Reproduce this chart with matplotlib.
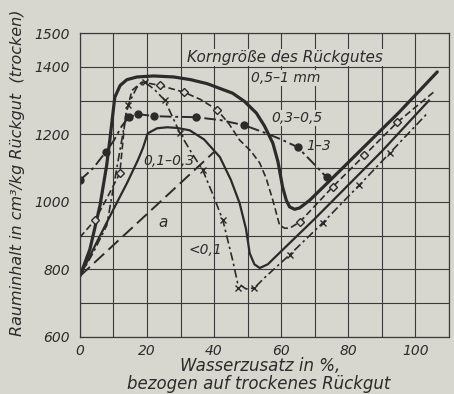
import numpy as np
import matplotlib.pyplot as plt

# Kurven: Rauminhalt (cm3/kg) ueber Wasserzusatz (%)
c1_x = [0, 3, 6, 8, 9, 10.4, 12, 14, 17, 22, 28, 33, 38, 42, 45.5, 49, 52.6, 55, 57.5, 59,
        60.4, 61.5, 62.5, 64, 65.5, 68.5, 75, 85, 95, 106.5]
c1_y = [780, 860, 990, 1110, 1190, 1310, 1345, 1362, 1370, 1373, 1370, 1362, 1350, 1335, 1322,
        1298, 1263, 1225, 1174, 1120, 1044, 1005, 985, 978, 982, 1005, 1068, 1166, 1264, 1385]

c2_x = [0, 4.5, 8, 11.9, 13.5, 15.5, 18.5, 23.8, 31, 36, 41, 44.5, 47.6, 51, 53.6, 55.5,
        57.5, 59.5, 61, 62.5, 65.5, 75.3, 84.8, 94.6, 106]
c2_y = [895, 946, 1010, 1085, 1250, 1330, 1355, 1345, 1325, 1303, 1272, 1230, 1183, 1150,
        1115, 1070, 1005, 931, 922, 922, 940, 1044, 1138, 1236, 1330]
c2_mx = [4.5, 11.9, 23.8, 31, 41, 65.5, 75.3, 84.8, 94.6]
c2_my = [946, 1085, 1345, 1325, 1272, 940, 1044, 1138, 1236]

c13_x = [0, 4, 7.7, 10, 12.5, 14.6, 17.3, 22, 28, 34.5, 42, 49, 55, 60, 64.9, 69, 73.5]
c13_y = [1064, 1100, 1148, 1180, 1225, 1251, 1260, 1254, 1252, 1251, 1242, 1227, 1205,
         1185, 1162, 1120, 1073]
c13_mx = [0, 7.7, 14.6, 17.3, 22, 34.5, 49, 64.9, 73.5]
c13_my = [1064, 1148, 1251, 1260, 1254, 1251, 1227, 1162, 1073]

c4_x = [0, 5, 10, 14, 17.3, 18.8, 20.2, 23, 26, 29, 32.7, 37, 41.7, 45, 47.6, 49.5, 50.6,
        52, 53.6, 56, 59.5, 70, 80, 90, 104]
c4_y = [780, 880, 978, 1055, 1124, 1160, 1203, 1218, 1221, 1219, 1212, 1185, 1133, 1065,
        996, 920, 848, 815, 804, 815, 849, 950, 1050, 1150, 1300]

c5_x = [0, 4, 8, 11, 14.3, 17, 19.3, 22, 25.3, 29.8, 33, 36.6, 39.5, 42.6, 45.5, 47, 49.5,
        52, 55, 62.5, 72.3, 83.3, 92.3, 103.6]
c5_y = [780, 850, 930, 1100, 1286, 1340, 1354, 1335, 1301, 1204, 1150, 1094, 1025, 946, 828,
        760, 742, 745, 775, 843, 937, 1050, 1144, 1263]
c5_mx = [14.3, 19.3, 25.3, 29.8, 36.6, 42.6, 47, 52, 62.5, 72.3, 83.3, 92.3]
c5_my = [1286, 1354, 1301, 1204, 1094, 946, 745, 745, 843, 937, 1050, 1144]

a_x = [0, 40]
a_y = [780, 1148]

xticks = [0, 20, 40, 60, 80, 100]
yticks = [600, 800, 1000, 1200, 1400, 1500]

paper = '#d8d7cf'
ink = '#2b2b2b'

fig = plt.figure(figsize=(4.54, 3.94), dpi=100, facecolor=paper)
ax = fig.add_axes([0.176, 0.145, 0.813, 0.771], facecolor=paper)

ax.set_xlim(0, 110)
ax.set_ylim(600, 1500)
ax.set_xticks(np.arange(0, 111, 10))
ax.set_yticks(np.arange(600, 1501, 100))
ax.grid(True, color='#3a3a3a', lw=0.8)
ax.set_axisbelow(True)
ax.set_xticklabels([str(v) if v in xticks else '' for v in np.arange(0, 111, 10)])
ax.set_yticklabels([str(v) if v in yticks else '' for v in np.arange(600, 1501, 100)])
ax.tick_params(length=0, labelsize=10, labelcolor=ink)
ax.tick_params(axis='y', pad=7)
ax.tick_params(axis='x', pad=5)
for lab in ax.get_xticklabels() + ax.get_yticklabels():
    lab.set_style('italic')
for s in ax.spines.values():
    s.set_color('#3a3a3a')
    s.set_linewidth(0.9)

ax.plot(c1_x, c1_y, color=ink, lw=2.3, solid_capstyle='round')
ax.plot(c4_x, c4_y, color=ink, lw=1.6)
ax.plot(c2_x, c2_y, color=ink, lw=1.2, ls=(0, (4, 2)))
ax.plot(c2_mx, c2_my, ls='none', marker='D', ms=4, mfc=paper, mec=ink, mew=1.0)
ax.plot(c13_x, c13_y, color=ink, lw=1.4, ls=(0, (6, 2, 1.5, 2)))
ax.plot(c13_mx, c13_my, ls='none', marker='o', ms=5, color=ink)
ax.plot(c5_x, c5_y, color=ink, lw=1.2, ls=(0, (5, 2, 1.5, 2)))
ax.plot(c5_mx, c5_my, ls='none', marker='x', ms=4, mew=1.0, color=ink)
ax.plot(a_x, a_y, color=ink, lw=1.4, ls=(0, (7, 3)))

tk = dict(color=ink, style='italic', fontsize=10)
ax.text(61, 1428, 'Korngröße des Rückgutes', ha='center', va='center', fontsize=11,
        color=ink, style='italic', bbox=dict(fc=paper, ec='none', pad=1))
ax.text(51, 1367, '0,5–1 mm', ha='left', va='center', bbox=dict(fc=paper, ec='none', pad=0.5), **tk)
ax.text(57, 1248, '0,3–0,5', ha='left', va='center', bbox=dict(fc=paper, ec='none', pad=0.5), **tk)
ax.text(67.5, 1165, '1–3', ha='left', va='center', **tk)
ax.text(19, 1122, '0,1–0,3', ha='left', va='center', **tk)
ax.text(32.5, 857, '<0,1', ha='left', va='center', **tk)
ax.text(23.5, 940, 'a', ha='left', va='center', fontsize=11, color=ink, style='italic')

ax.set_ylabel('Rauminhalt in cm³/kg Rückgut  (trocken)', style='italic', fontsize=11.5,
              color=ink)
ax.yaxis.set_label_coords(-0.15, 0.54)

# x-Beschriftung zweizeilig, Zeilen gegeneinander versetzt wie im Original
fig.text(180 / 454, 1 - 366 / 394, 'Wasserzusatz in %,', style='italic', fontsize=12,
         color=ink, ha='left', va='center')
fig.text(127 / 454, 1 - 384 / 394, 'bezogen auf trockenes Rückgut', style='italic',
         fontsize=12, color=ink, ha='left', va='center')

fig.savefig('out.png', dpi=100, facecolor=paper)
